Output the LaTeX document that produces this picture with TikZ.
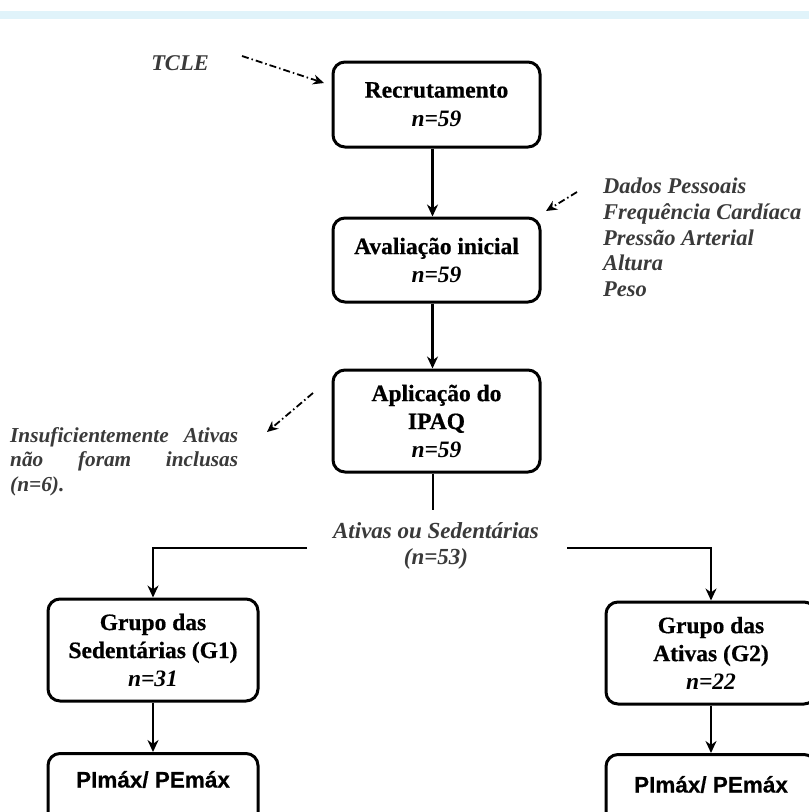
\documentclass[tikz,border=0pt]{standalone}
\usepackage{fontspec}
\setmainfont{Liberation Serif}[BoldFeatures={FakeBold=0.6}]
\newfontfamily\sansf{Liberation Sans}[BoldFeatures={FakeBold=0.4}]
\usetikzlibrary{arrows.meta}
\definecolor{bandblue}{HTML}{E0F3FA}
\definecolor{notegray}{HTML}{3A3A3A}
\begin{document}
\begin{tikzpicture}[x=1pt,y=-1pt,
  box/.style={draw, line width=3pt, rounded corners=12pt, align=center, inner sep=0pt,
    font=\fontsize{23.5}{28}\selectfont\bfseries},
  pbox/.style={draw, line width=3pt, rounded corners=12pt, inner sep=0pt, anchor=north,
    minimum width=210pt, text depth=60pt, font=\sansf\fontsize{22.5}{26}\selectfont\bfseries},
  conn/.style={line width=2.4pt, -{Stealth[length=12pt,width=11pt]}},
  plain/.style={line width=2.4pt},
  annot/.style={text=notegray, inner sep=0pt, font=\fontsize{22.5}{25.7}\selectfont\bfseries\itshape},
  dd/.style={line width=1.8pt, dash pattern=on 7pt off 3pt on 1.5pt off 3pt,
    -{Stealth[length=11pt,width=10pt]}}]
\useasboundingbox (0,0) rectangle (809,812);
\clip (0,0) rectangle (809,812);
\fill[bandblue] (0,11) rectangle (809,19);

% main boxes
\node[box, minimum width=207pt, minimum height=85pt] (rec) at (436.5,104.5) {Recrutamento\\[1pt]\textit{n=59}};
\node[box, minimum width=207pt, minimum height=84pt] (ava) at (436.5,260) {Avaliação inicial\\\textit{n=59}};
\node[box, minimum width=207pt, minimum height=102pt] (apl) at (436.5,421) {Aplicação do\\IPAQ\\\textit{n=59}};
\node[box, minimum width=210pt, minimum height=102pt] (g1) at (153,650) {Grupo das\\Sedentárias (G1)\\\textit{n=31}};
\node[box, minimum width=210pt, minimum height=102pt] (g2) at (711,653) {Grupo das\\Ativas (G2)\\\textit{n=22}};
\node[pbox, text height=34pt] (p1) at (153,752) {PImáx/ PEmáx};
\node[pbox, text height=38pt] (p2) at (711,753) {PImáx/ PEmáx};

% vertical connectors
\draw[conn] ([xshift=-4pt]rec.south) -- ([xshift=-4pt]ava.north);
\draw[conn] ([xshift=-4pt]ava.south) -- ([xshift=-4pt]apl.north);
\coordinate (sp) at (433,510);
\draw[plain] ([xshift=-3.5pt]apl.south) -- (sp);

% split
\node[annot, align=center, font=\fontsize{23}{26}\selectfont\bfseries\itshape] (split) at (436,546) {Ativas ou Sedentárias\\(n=53)};
\coordinate (hl) at (307,548);
\coordinate (cl) at (153,548);
\coordinate (hr) at (567,548);
\coordinate (cr) at (711,548);
\draw[conn] (hl) -- (cl) -- (g1.north);
\draw[conn] (hr) -- (cr) -- (g2.north);
\draw[conn] (g1.south) -- (p1.north);
\draw[conn] (g2.south) -- (p2.north);

% annotations
\node[annot] (tcle) at (180,63) {TCLE};
\coordinate (t1) at (242,56);
\coordinate (t2) at (324,83);
\draw[dd] (t1) -- (t2);

\node[annot, align=left, anchor=north west] (dados) at (603,178) {Dados Pessoais\\Frequência Cardíaca\\Pressão Arterial\\Altura\\Peso};
\coordinate (d1) at (577,192);
\coordinate (d2) at (546,211);
\draw[dd] (d1) -- (d2);

\node[annot, text width=228pt, align=justify, anchor=north west, font=\fontsize{21.3}{24.5}\selectfont\bfseries\itshape] (insuf) at (10,427) {Insuficientemente Ativas\linebreak não foram inclusas\linebreak (n=6).};
\coordinate (i1) at (313,393);
\coordinate (i2) at (267,432);
\draw[dd] (i1) -- (i2);
\end{tikzpicture}
\end{document}
